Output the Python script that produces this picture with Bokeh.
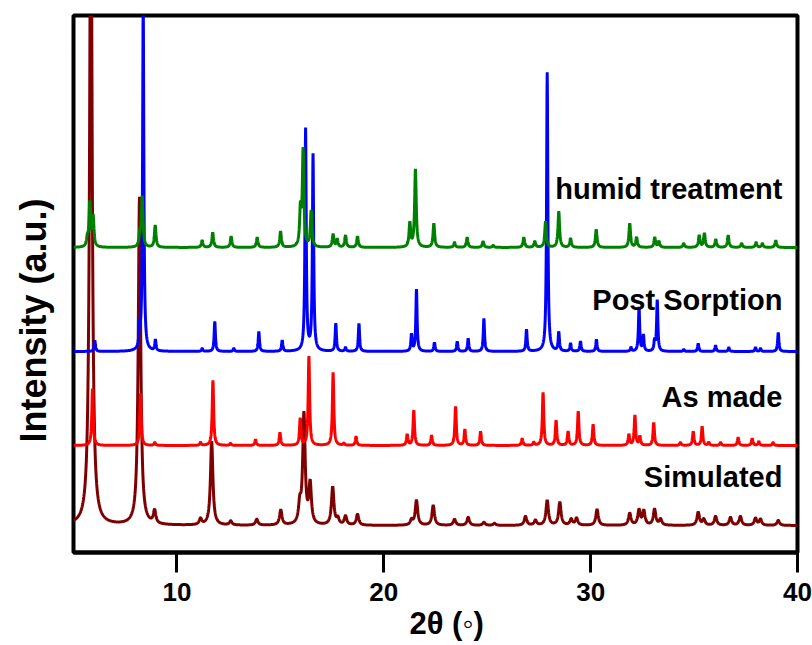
import numpy as np
from bokeh.plotting import figure
from bokeh.models import Range1d, Label, FixedTicker, Title
from bokeh.embed import file_html
from bokeh.resources import INLINE

# ---------------- data ----------------
series_names = ["Simulated", "As made", "Post Sorption", "humid treatment"]
series_colors = ["#7f0000", "#ff0000", "#0000ff", "#008000"]
series_offsets = [27, 107, 201, 305]          # vertical stacking offsets (a.u.)
series_widths = [0.07, 0.04, 0.035, 0.045]     # peak half widths (deg)

sim_pos = [5.84, 8.19, 8.92, 11.14, 11.68, 12.60, 13.86, 15.02, 15.94, 16.14, 16.44,
           17.53, 17.78, 18.15, 18.73, 21.34, 21.58, 22.39, 23.42, 24.08, 24.84, 25.35,
           26.85, 27.33, 27.90, 28.51, 29.06, 29.32, 30.31, 31.89, 32.34, 32.57, 33.09,
           33.38, 35.20, 35.47, 36.04, 36.76, 37.24, 37.97, 38.21, 39.07]
sim_int = [700, 328, 13, 6, 84, 4, 6, 15, 18, 110, 40,
           38, 6, 9, 11, 5, 25, 20, 6, 8, 3, 2,
           9, 5, 25, 23, 6, 7, 16, 12, 15, 14, 16,
           6, 13, 6, 9, 8, 9, 7, 6, 5]

made_pos = [5.92, 8.24, 8.93, 11.14, 11.74, 12.59, 13.80, 14.98, 15.96, 16.38, 17.55,
            18.07, 18.66, 21.13, 21.45, 22.31, 23.47, 23.92, 24.68, 26.69, 27.25, 27.70,
            28.33, 28.91, 29.40, 30.12, 31.85, 32.14, 32.38, 33.05, 34.34, 34.96, 35.39,
            35.71, 36.28, 37.13, 37.81, 38.13, 38.82]
made_int = [57, 52, 3, 3, 65, 2, 6, 13, 27, 89, 73,
            2, 9, 11, 35, 10, 39, 16, 14, 7, 3, 53,
            25, 14, 34, 21, 11, 30, 9, 23, 3, 14, 19,
            3, 3, 8, 7, 4, 3]

post_pos = [6.03, 8.20, 8.37, 8.96, 11.22, 11.83, 12.75, 13.96, 15.09, 16.22, 16.58,
            17.68, 18.15, 18.80, 21.34, 21.58, 22.45, 23.55, 24.08, 24.84, 26.90, 27.90,
            28.46, 29.03, 29.51, 30.28, 31.95, 32.34, 32.55, 33.09, 33.22, 34.50, 35.20,
            36.04, 36.68, 37.97, 38.21, 39.07]
post_int = [11, 18, 350, 11, 3, 30, 3, 20, 11, 222, 196,
            28, 4, 28, 17, 62, 9, 10, 13, 33, 22, 279,
            19, 8, 10, 12, 4, 44, 16, 10, 51, 2, 8,
            6, 4, 4, 3, 19]

humid_pos = [5.67, 5.79, 5.95, 8.21, 8.32, 8.95, 11.22, 11.73, 12.62, 13.88, 15.01,
             15.97, 16.10, 16.49, 17.55, 17.75, 18.15, 18.73, 21.26, 21.53, 22.42, 23.42,
             24.03, 24.80, 25.29, 26.77, 27.30, 27.82, 28.46, 29.03, 30.27, 31.89, 32.22,
             33.10, 33.30, 34.50, 35.25, 35.50, 36.05, 36.65, 37.30, 38.00, 38.30, 38.95]
humid_int = [8, 44, 30, 12, 50, 22, 7, 15, 11, 10, 16,
             36, 96, 36, 13, 8, 12, 11, 24, 78, 24, 5,
             10, 6, 2, 10, 6, 26, 36, 9, 18, 24, 10,
             10, 6, 4, 12, 14, 8, 12, 4, 5, 4, 7]

x_ticks = [10, 20, 30, 40]
x_title = "2θ (◦)"
y_title = "Intensity (a.u.)"

peak_positions = [sim_pos, made_pos, post_pos, humid_pos]
peak_heights = [sim_int, made_int, post_int, humid_int]

# ---------------- profiles ----------------
two_theta = np.linspace(5, 40, 3501)


def pattern(pos, inten, gamma):
    y = np.zeros_like(two_theta)
    for c, h in zip(pos, inten):
        y += h / (1.0 + ((two_theta - c) / gamma) ** 2)
    return y


p = figure(width=812, height=645,
           x_range=Range1d(5, 40), y_range=Range1d(0, 537),
           output_backend="svg", toolbar_location=None,
           y_axis_location="left",
           min_border_left=73, min_border_right=15,
           min_border_top=15, min_border_bottom=93)

p.background_fill_color = "white"
p.border_fill_color = "white"
p.outline_line_color = "black"
p.outline_line_width = 4
p.grid.visible = False

for pos, inten, off, col, g in zip(peak_positions, peak_heights, series_offsets,
                                    series_colors, series_widths):
    p.line(two_theta, pattern(pos, inten, g) + off, line_color=col, line_width=3)

# x axis
ax = p.xaxis[0]
ax.ticker = FixedTicker(ticks=x_ticks, minor_ticks=[])
ax.axis_line_width = 4
ax.axis_line_color = "black"
ax.major_tick_out = 20
ax.major_tick_in = 0
ax.major_tick_line_width = 3
ax.minor_tick_out = 0
ax.minor_tick_in = 0
ax.major_label_standoff = 10
ax.major_label_text_font = "Liberation Sans"
ax.major_label_text_font_style = "bold"
ax.major_label_text_font_size = "26px"
ax.major_label_text_color = "black"

# y axis: shows nothing, only keeps the y title away from the frame
ay = p.yaxis[0]
ay.ticker = FixedTicker(ticks=[500], minor_ticks=[])
ay.axis_line_color = None
ay.major_tick_line_color = "black"
ay.major_tick_line_alpha = 0.003
ay.major_tick_line_width = 1
ay.major_tick_out = 19
ay.major_tick_in = 0
ay.minor_tick_out = 0
ay.minor_tick_in = 0
ay.major_label_overrides = {500: ""}
ay.major_label_standoff = 0
ay.major_label_text_font_size = "1px"
ay.major_label_text_color = "white"

# axis titles as side titles
p.add_layout(Title(text=y_title, align="left", offset=110, standoff=0,
                   vertical_align="middle",
                   text_font="Liberation Sans", text_font_style="bold",
                   text_font_size="36px", text_color="black"), "left")
p.add_layout(Title(text=x_title, align="left", offset=336, standoff=0,
                   vertical_align="bottom",
                   text_font="Liberation Sans", text_font_style="bold",
                   text_font_size="31px", text_color="black"), "below")

# series names
name_y = [76, 156, 253, 364]
for name, ny in zip(series_names, name_y):
    p.add_layout(Label(x=39.27, y=ny, text=name, text_align="right",
                       text_baseline="alphabetic", text_font="Liberation Sans",
                       text_font_style="bold", text_font_size="29px",
                       text_color="black"))

open("out.html", "w").write(file_html(p, INLINE))
